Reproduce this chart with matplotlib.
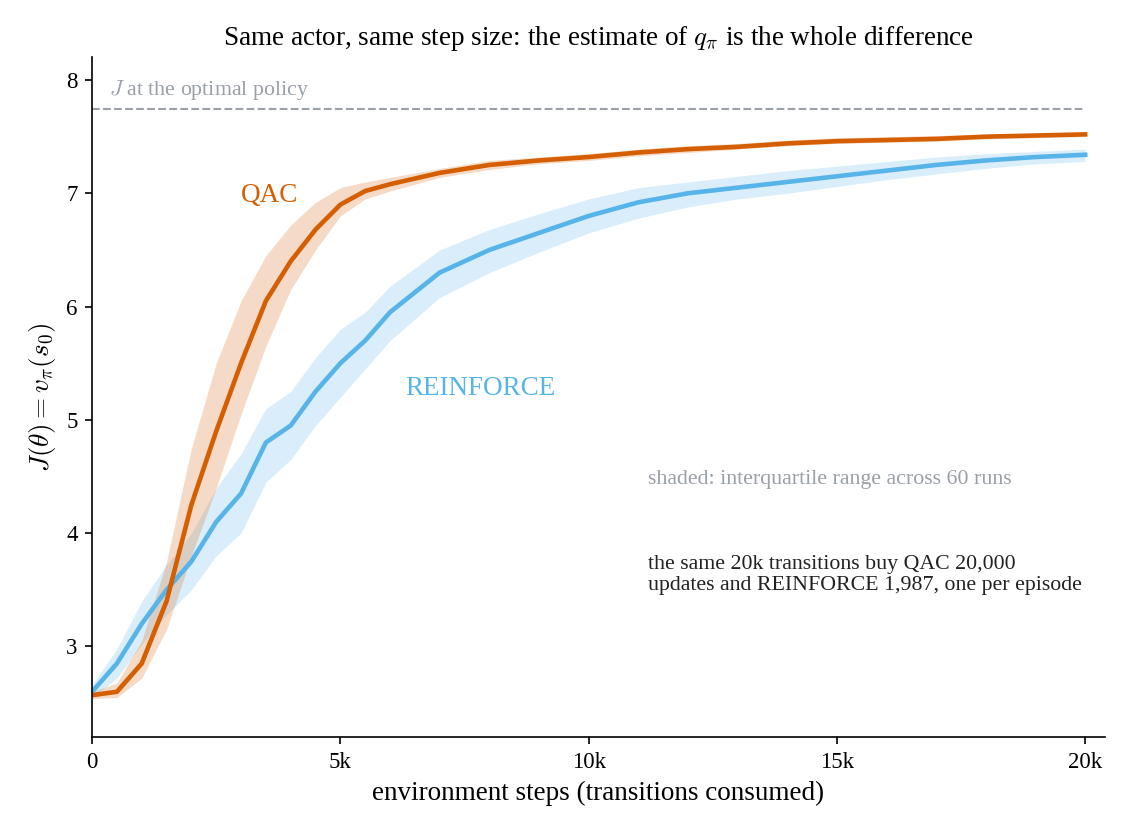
import numpy as np
import matplotlib.pyplot as plt

plt.rcParams['font.family'] = ['Liberation Serif', 'DejaVu Serif']
plt.rcParams['mathtext.fontset'] = 'cm'

steps = [0, 500, 1000, 1500, 2000, 2500, 3000, 3500, 4000, 4500, 5000, 5500, 6000, 7000,
         8000, 9000, 10000, 11000, 12000, 13000, 14000, 15000, 16000, 17000, 18000, 19000, 20000]
qac = [2.57, 2.6, 2.85, 3.4, 4.25, 4.9, 5.5, 6.05, 6.4, 6.68, 6.9, 7.02, 7.08, 7.18,
       7.25, 7.29, 7.32, 7.36, 7.39, 7.41, 7.44, 7.46, 7.47, 7.48, 7.5, 7.51, 7.52]
qac_lo = [2.54, 2.55, 2.72, 3.15, 3.8, 4.4, 5.05, 5.65, 6.15, 6.5, 6.8, 6.95, 7.02, 7.14,
          7.21, 7.26, 7.29, 7.33, 7.36, 7.39, 7.42, 7.44, 7.45, 7.46, 7.48, 7.49, 7.5]
qac_hi = [2.6, 2.68, 3.05, 3.75, 4.75, 5.5, 6.05, 6.45, 6.72, 6.92, 7.05, 7.1, 7.14, 7.22,
          7.29, 7.32, 7.35, 7.39, 7.42, 7.44, 7.47, 7.49, 7.5, 7.51, 7.52, 7.53, 7.54]
rf = [2.6, 2.85, 3.2, 3.5, 3.75, 4.1, 4.35, 4.8, 4.95, 5.25, 5.5, 5.7, 5.95, 6.3,
      6.5, 6.65, 6.8, 6.92, 7.0, 7.05, 7.1, 7.15, 7.2, 7.25, 7.29, 7.32, 7.34]
rf_lo = [2.55, 2.72, 3.02, 3.28, 3.5, 3.8, 4.0, 4.45, 4.65, 4.95, 5.2, 5.45, 5.7, 6.08,
         6.3, 6.48, 6.65, 6.78, 6.88, 6.95, 7.0, 7.06, 7.12, 7.17, 7.22, 7.26, 7.28]
rf_hi = [2.66, 2.98, 3.4, 3.72, 4.0, 4.4, 4.7, 5.1, 5.25, 5.55, 5.8, 5.95, 6.18, 6.5,
         6.68, 6.82, 6.95, 7.05, 7.1, 7.15, 7.2, 7.24, 7.28, 7.32, 7.35, 7.37, 7.39]
j_opt = 7.74

orange = '#D55E00'
blue = '#56B4E9'
gray = '#9AA0A8'

fig, ax = plt.subplots(figsize=(1123/150, 831/150), dpi=150)
ax.fill_between(steps, rf_lo, rf_hi, color=blue, alpha=0.22, lw=0)
ax.fill_between(steps, qac_lo, qac_hi, color=orange, alpha=0.22, lw=0)
ax.plot(steps, rf, color=blue, lw=2.2)
ax.plot(steps, qac, color=orange, lw=2.2)
ax.plot([0, 20000], [j_opt, j_opt], color=gray, ls='--', lw=1)

ax.text(350, 7.87, r'$J$ at the optimal policy', color=gray, fontsize=10.5)
ax.text(3000, 6.92, 'QAC', color=orange, fontsize=13)
ax.text(6300, 5.22, 'REINFORCE', color=blue, fontsize=13)
ax.text(11200, 4.43, 'shaded: interquartile range across 60 runs', color=gray, fontsize=10.5)
ax.text(11200, 3.5, 'the same 20k transitions buy QAC 20,000\nupdates and REINFORCE 1,987, one per episode',
        color='#222222', fontsize=10.5, linespacing=1.1)

ax.set_xlim(0, 20400)
ax.set_ylim(2.2, 8.2)
ax.set_xticks([0, 5000, 10000, 15000, 20000])
ax.set_xticklabels(['0', '5k', '10k', '15k', '20k'])
ax.set_yticks([3, 4, 5, 6, 7, 8])
ax.tick_params(labelsize=11)
ax.spines['top'].set_visible(False)
ax.spines['right'].set_visible(False)
ax.set_xlabel('environment steps (transitions consumed)', fontsize=13)
ax.set_ylabel(r'$J(\theta) = v_\pi(s_0)$', fontsize=13)
ax.set_title(r'Same actor, same step size: the estimate of $q_\pi$ is the whole difference', fontsize=13)
fig.subplots_adjust(left=0.082, right=0.984, top=0.931, bottom=0.113)
fig.savefig('out.png', dpi=150)
